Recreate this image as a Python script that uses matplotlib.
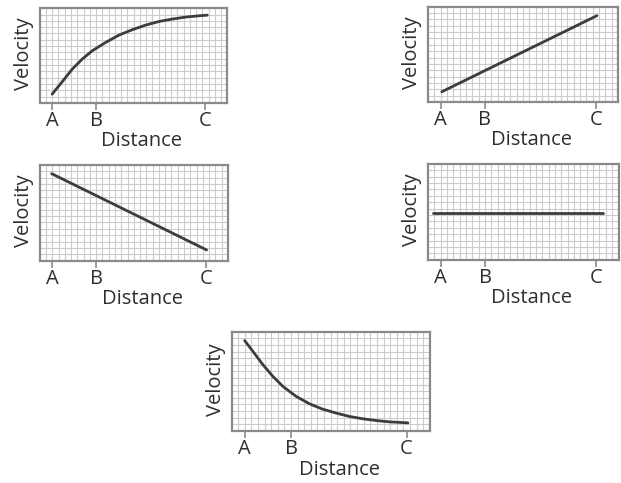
import numpy as np
import matplotlib
matplotlib.use("Agg")
import matplotlib.pyplot as plt

plt.rcParams['font.family'] = ['Open Sans', 'DejaVu Sans']

# tick positions along distance (grid units) and their labels
tick_pos = [2, 9, 26.5]
tick_labels = ['A', 'B', 'C']

# curves (x in grid units 0-30, y in grid units 0-15)
rise_x = [1.98, 3.58, 5.19, 6.79, 8.39, 10.53, 12.67, 14.8, 16.95, 19.09, 21.2, 23.4, 25.5, 26.8]
rise_y = [1.38, 3.33, 5.34, 6.93, 8.25, 9.57, 10.74, 11.59, 12.33, 12.9, 13.28, 13.6, 13.8, 13.9]

incr_x = [2.2, 26.7]
incr_y = [1.6, 13.6]

decr_x = [1.9, 26.6]
decr_y = [13.6, 1.7]

flat_x = [0.8, 27.5]
flat_y = [7.3, 7.3]

fall_x = [1.97, 3.23, 4.75, 6.26, 7.78, 9.8, 11.8, 13.8, 15.86, 17.88, 19.9, 21.9, 23.9, 26.7]
fall_y = [13.68, 12.02, 10.0, 8.23, 6.72, 5.2, 4.09, 3.28, 2.68, 2.17, 1.82, 1.56, 1.36, 1.21]

panels = [
    ([0.064, 0.787, 0.302, 0.196], rise_x, rise_y),
    ([0.689, 0.789, 0.306, 0.197], incr_x, incr_y),
    ([0.064, 0.460, 0.303, 0.199], decr_x, decr_y),
    ([0.689, 0.462, 0.307, 0.199], flat_x, flat_y),
    ([0.373, 0.108, 0.319, 0.205], fall_x, fall_y),
]

text_col = '#2e2e2e'
fs = 14.5
fig = plt.figure(figsize=(6.21, 4.83), dpi=100)

for rect, xs, ys in panels:
    ax = fig.add_axes(rect)
    ax.set_xlim(0, 30)
    ax.set_ylim(0, 15)
    # graph-paper grid
    for gx in range(1, 30):
        ax.axvline(gx, color='#cccccc', lw=0.8, zorder=0)
    for gy in range(1, 15):
        ax.axhline(gy, color='#cccccc', lw=0.8, zorder=0)
    ax.plot(xs, ys, color='#3c3c3c', lw=2.0, solid_capstyle='round')
    for s in ax.spines.values():
        s.set_color('#8a8a8a')
        s.set_linewidth(1.6)
    ax.set_xticks(tick_pos)
    ax.set_xticklabels(tick_labels, fontsize=fs, color=text_col, fontweight='medium')
    ax.set_yticks([])
    ax.tick_params(axis='x', length=5, width=1.2, color='#8a8a8a', pad=1)
    ax.set_xlabel('Distance', fontsize=fs, color=text_col, fontweight='medium')
    ax.xaxis.set_label_coords(0.545, -0.295)
    ax.set_ylabel('Velocity', fontsize=fs, color=text_col, fontweight='medium')
    ax.yaxis.set_label_coords(-0.03, 0.52)

fig.savefig('out.png', dpi=100)
